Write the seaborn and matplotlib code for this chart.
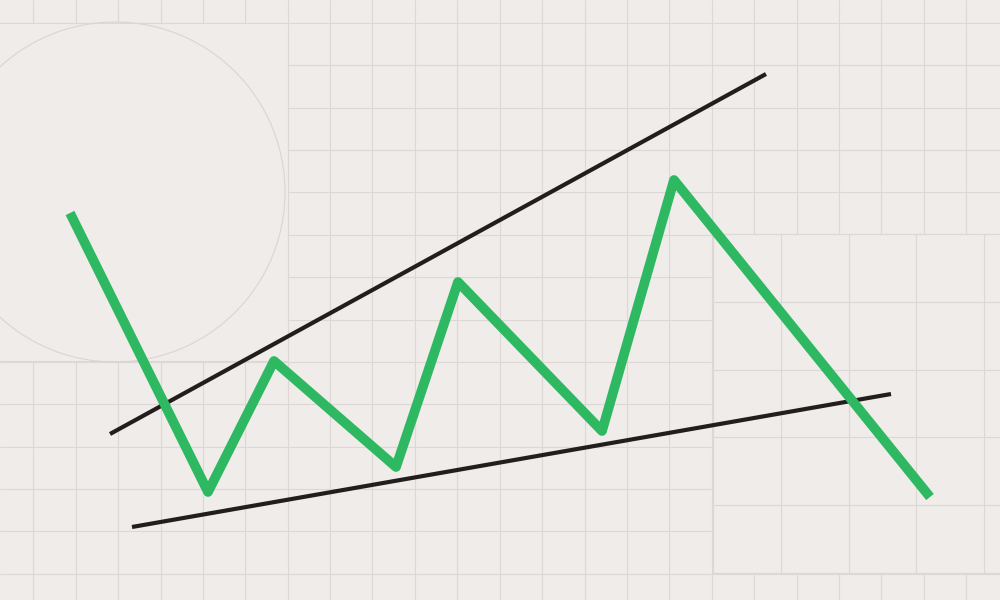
import matplotlib
matplotlib.use("Agg")
import matplotlib.pyplot as plt
import numpy as np
import pandas as pd
import seaborn as sns
from matplotlib.patches import Rectangle, Circle

# ---- data (canvas units: x 0..1000, y 0..600, y measured upward) ----
price_x = [70, 208, 274, 396, 458, 602, 674, 930]
price_y = [387, 108, 239, 133, 318, 169, 420, 103]

upper_x = [110, 766]
upper_y = [166, 526]

lower_x = [132, 891]
lower_y = [73, 206]

# ---- style ----
BG = "#F0ECE9"
GRID = "#DDD8D5"
GREEN = "#2DB861"
DARK = "#231E1B"

sns.set_theme(style="white")
plt.rcParams["font.family"] = ["DejaVu Sans"]

fig = plt.figure(figsize=(10, 6), dpi=100)
fig.patch.set_facecolor(BG)
ax = fig.add_axes([0, 0, 1, 1])
ax.set_facecolor(BG)
ax.set_xlim(0, 1000)
ax.set_ylim(0, 600)
ax.axis("off")

# ---- background grid ----
step = 42.4
gx = np.arange(33.3 - step, 1000 + step, step)
gy_img = np.arange(22.7 - step, 600 + step, step)
ax.vlines(gx, 0, 600, colors=GRID, linewidth=0.8, zorder=1)
ax.hlines(600 - gy_img, 0, 1000, colors=GRID, linewidth=0.8, zorder=1)

# blank top-left panel with circle
ax.add_patch(Rectangle((-5, 600 - 361), 293, 361 - 22.7, facecolor=BG,
                       edgecolor=GRID, linewidth=0.8, zorder=2))
ax.add_patch(Circle((115, 600 - 192), 170, facecolor="none",
                    edgecolor="#DAD5D2", linewidth=0.8, zorder=3))

# bottom-right panel with larger grid
bx0, bx1, by0, by1 = 713, 1000, 234, 573
ax.add_patch(Rectangle((bx0, 600 - by1), bx1 - bx0 + 5, by1 - by0, facecolor=BG,
                       edgecolor=GRID, linewidth=0.8, zorder=2))
big = 67.8
bgx = np.arange(bx0, bx1, big)
bgy = np.arange(by0, by1 + 1, big)
ax.vlines(bgx, 600 - by1, 600 - by0, colors=GRID, linewidth=0.8, zorder=3)
ax.hlines(600 - bgy, bx0, bx1, colors=GRID, linewidth=0.8, zorder=3)

# ---- trend lines ----
sns.lineplot(x=upper_x, y=upper_y, ax=ax, color=DARK, linewidth=3.0,
             sort=False, zorder=5, solid_capstyle="butt")
sns.lineplot(x=lower_x, y=lower_y, ax=ax, color=DARK, linewidth=3.0,
             sort=False, zorder=5, solid_capstyle="butt")

# ---- price path ----
sns.lineplot(x=price_x, y=price_y, ax=ax, color=GREEN, linewidth=7.0,
             sort=False, zorder=6, solid_joinstyle="round",
             solid_capstyle="butt")

ax.set_xlim(0, 1000)
ax.set_ylim(0, 600)
fig.savefig("out.png", dpi=100, facecolor=BG)
